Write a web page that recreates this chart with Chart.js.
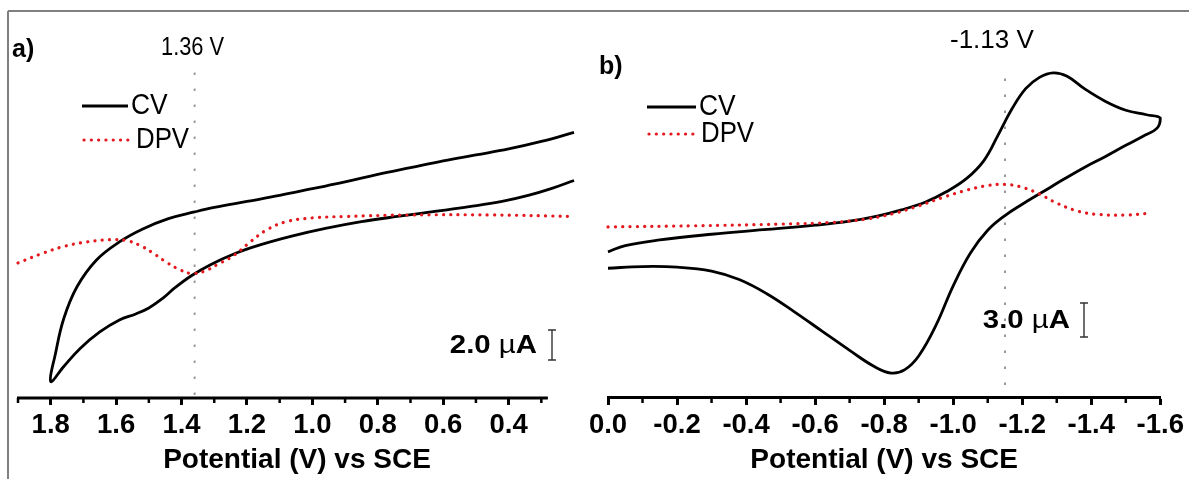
<!DOCTYPE html>
<html>
<head>
<meta charset="utf-8">
<script src="https://cdn.jsdelivr.net/npm/chart.js@4.4.1/dist/chart.umd.min.js"></script>
<style>
  html, body { margin: 0; padding: 0; background: #fff; }
  body { width: 1189px; height: 479px; position: relative; overflow: hidden; }
  canvas { position: absolute; top: 0; }
  #panelA { left: 0; }
  #panelB { left: 560px; }
</style>
</head>
<body>
<canvas id="panelA" width="595" height="479"></canvas>
<canvas id="panelB" width="629" height="479"></canvas>
<script>
// ---- panel a : oxidation (potential V vs SCE, current in uA, arbitrary zero) ----
const cvA_E = [0.20, 0.30, 0.40, 0.50, 0.60, 0.70, 0.80, 0.90, 1.00, 1.10, 1.20, 1.30, 1.36, 1.44, 1.52, 1.59, 1.66, 1.72, 1.76, 1.785, 1.80,
               1.76, 1.71, 1.65, 1.59, 1.54, 1.50, 1.46, 1.42, 1.37, 1.31, 1.24, 1.16, 1.06, 0.96, 0.85, 0.74, 0.62, 0.52, 0.42, 0.34, 0.27, 0.20];
const cvA_I = [17.7, 17.1, 16.6, 16.2, 15.8, 15.35, 14.9, 14.4, 13.95, 13.5, 13.1, 12.7, 12.4, 11.95, 11.25, 10.4, 9.2, 7.4, 5.3, 3.0, 1.1,
               2.1, 3.3, 4.4, 5.2, 5.6, 6.0, 6.6, 7.35, 8.15, 8.9, 9.6, 10.2, 10.8, 11.3, 11.75, 12.1, 12.45, 12.75, 13.1, 13.5, 13.95, 14.5];
const dpvA_E = [1.90, 1.83, 1.76, 1.69, 1.62, 1.57, 1.53, 1.49, 1.45, 1.41, 1.37, 1.33, 1.29, 1.24, 1.19, 1.14, 1.08, 1.00, 0.90, 0.70, 0.45, 0.20];
const dpvA_I = [9.0, 9.6, 10.1, 10.4, 10.55, 10.5, 10.2, 9.7, 9.1, 8.6, 8.3, 8.45, 8.9, 9.5, 10.4, 11.2, 11.75, 12.0, 12.1, 12.2, 12.2, 12.1];
const ticksA = [1.8, 1.6, 1.4, 1.2, 1.0, 0.8, 0.6, 0.4];
const minorA = [1.9, 1.7, 1.5, 1.3, 1.1, 0.9, 0.7, 0.5, 0.3];
const axisA = [1.9, 0.28];
const peakA = 1.36;

// ---- panel b : reduction ----
const cvB_E = [0.0, -0.05, -0.15, -0.30, -0.45, -0.60, -0.70, -0.78, -0.85, -0.92, -0.98, -1.04, -1.09, -1.13, -1.17,
               -1.21, -1.25, -1.29, -1.33, -1.38, -1.44, -1.50, -1.56, -1.60,
               -1.59, -1.55, -1.50, -1.44, -1.38, -1.32, -1.26, -1.20, -1.15, -1.10, -1.05, -1.00, -0.95, -0.90, -0.86,
               -0.82, -0.77, -0.70, -0.62, -0.54, -0.46, -0.38, -0.30, -0.20, -0.10, 0.0];
const cvB_I = [12.9, 13.45, 13.95, 14.45, 14.85, 15.25, 15.6, 16.05, 16.6, 17.3, 18.2, 19.4, 21.0, 23.2, 25.5,
               27.3, 28.3, 28.7, 28.4, 27.3, 26.2, 25.4, 25.0, 24.7,
               23.8, 23.1, 22.3, 21.3, 20.35, 19.3, 18.2, 17.1, 16.1, 14.8, 12.8, 9.9, 6.4, 3.7, 2.5,
               2.2, 2.8, 4.2, 5.9, 7.6, 9.2, 10.45, 11.2, 11.55, 11.6, 11.45];
const dpvB_E = [0.0, -0.25, -0.50, -0.65, -0.75, -0.83, -0.90, -0.97, -1.04, -1.10, -1.15, -1.20, -1.25, -1.30, -1.36, -1.42, -1.50, -1.57];
const dpvB_I = [15.1, 15.2, 15.35, 15.5, 15.8, 16.3, 16.95, 17.7, 18.35, 18.75, 18.85, 18.6, 18.0, 17.2, 16.5, 16.2, 16.15, 16.3];
const ticksB = [0.0, -0.2, -0.4, -0.6, -0.8, -1.0, -1.2, -1.4, -1.6];
const minorB = [-0.1, -0.3, -0.5, -0.7, -0.9, -1.1, -1.3, -1.5];
const peakB = -1.15;

const FONT = 'Arial, "Liberation Sans", Helvetica, sans-serif';
const RED = '#e3191f';

const pts = (E, I) => E.map((x, i) => ({ x, y: I[i] }));

function condText(ctx, s, x, y, size, sx, weight) {
  ctx.save();
  ctx.font = (weight || 'normal') + ' ' + size + 'px ' + FONT;
  ctx.textBaseline = 'middle';
  ctx.textAlign = 'left';
  ctx.translate(x, y);
  ctx.scale(sx, 1);
  ctx.fillStyle = '#000';
  ctx.fillText(s, 0, 0);
  ctx.restore();
}

// decorations: frame, axis line, minor ticks, labels, legend, scale bar
const deco = (cfg) => ({
  id: 'deco',
  afterDraw(chart) {
    const ctx = chart.ctx, xs = chart.scales.x, ys = chart.scales.y, area = chart.chartArea;
    ctx.save();
    ctx.strokeStyle = '#808080';
    ctx.lineWidth = 2;
    ctx.beginPath();
    cfg.frame.forEach(([x1, y1, x2, y2]) => { ctx.moveTo(x1, y1); ctx.lineTo(x2, y2); });
    ctx.stroke();

    ctx.strokeStyle = '#000';
    if (cfg.axis) {
      ctx.lineWidth = 3;
      ctx.beginPath();
      ctx.moveTo(xs.getPixelForValue(cfg.axis[0]) - 1, area.bottom);
      ctx.lineTo(xs.getPixelForValue(cfg.axis[1]), area.bottom);
      ctx.stroke();
    }
    ctx.lineWidth = 2.5;
    ctx.beginPath();
    cfg.minor.forEach(v => {
      const x = xs.getPixelForValue(v);
      ctx.moveTo(x, area.bottom);
      ctx.lineTo(x, area.bottom + 5);
    });
    ctx.stroke();

    // panel letter and peak label
    condText(ctx, cfg.letter, cfg.letterPos[0], cfg.letterPos[1], 25, 1, 'bold');
    condText(ctx, cfg.peakLabel, cfg.peakPos[0], cfg.peakPos[1], 26, cfg.peakSx, 'normal');

    // legend
    const [lx1, lx2] = cfg.legendX;
    ctx.lineWidth = 2.8;
    ctx.beginPath();
    ctx.moveTo(lx1, cfg.legendY[0]);
    ctx.lineTo(lx2, cfg.legendY[0]);
    ctx.stroke();
    ctx.strokeStyle = RED;
    ctx.lineWidth = 3.2;
    ctx.lineCap = 'round';
    ctx.setLineDash([0.1, 7.2]);
    ctx.beginPath();
    ctx.moveTo(lx1 + 2, cfg.legendY[1]);
    ctx.lineTo(lx2, cfg.legendY[1]);
    ctx.stroke();
    ctx.setLineDash([]);
    ctx.lineCap = 'butt';
    condText(ctx, 'CV', cfg.legendText[0], cfg.legendY[0], 30, 0.88);
    condText(ctx, 'DPV', cfg.legendText[1], cfg.legendY[1], 30, 0.86);

    // scale bar, length taken from the y scale
    const yb = ys.getPixelForValue(cfg.bar.from);
    const yt = ys.getPixelForValue(cfg.bar.from + cfg.bar.len);
    ctx.strokeStyle = '#333';
    ctx.lineWidth = 1.4;
    ctx.beginPath();
    ctx.moveTo(cfg.bar.x, yb); ctx.lineTo(cfg.bar.x, yt);
    ctx.moveTo(cfg.bar.x - 4, yb); ctx.lineTo(cfg.bar.x + 4, yb);
    ctx.moveTo(cfg.bar.x - 4, yt); ctx.lineTo(cfg.bar.x + 4, yt);
    ctx.stroke();

    const sx = 1.13, size = 26;
    const parts = [[cfg.bar.len.toFixed(1) + ' ', 'bold'], ['\u00b5', 'normal'], ['A', 'bold']];
    let total = 0;
    const widths = parts.map(([s, w]) => {
      ctx.font = w + ' ' + size + 'px ' + FONT;
      const m = ctx.measureText(s).width * sx;
      total += m;
      return m;
    });
    let x = cfg.bar.textRight - total;
    const ym = (yb + yt) / 2 + 1;
    parts.forEach(([s, w], i) => { condText(ctx, s, x, ym, size, sx, w); x += widths[i]; });
    ctx.restore();
  }
});

function panel(id, o) {
  return new Chart(document.getElementById(id), {
    type: 'line',
    data: {
      datasets: [
        { label: 'DPV', data: pts(o.dpvE, o.dpvI), borderColor: RED, borderWidth: 3.2,
          borderDash: [0.1, 7.2], borderCapStyle: 'round', tension: 0.4, pointRadius: 0, clip: false, order: 0 },
        { label: 'CV', data: pts(o.cvE, o.cvI), borderColor: '#000', borderWidth: 2.8,
          tension: 0.4, pointRadius: 0, clip: false, order: 1 },
        { label: 'peak', data: [{ x: o.peak, y: o.peakTop }, { x: o.peak, y: 0 }], borderColor: '#9a9a9a',
          borderWidth: 2, borderDash: [2.5, 13.5], tension: 0, pointRadius: 0, clip: false, order: 2 }
      ]
    },
    options: {
      responsive: false,
      animation: false,
      events: [],
      devicePixelRatio: 1,
      layout: { padding: o.padding },
      plugins: { legend: { display: false }, tooltip: { enabled: false } },
      scales: {
        x: {
          type: 'linear',
          min: o.xMin, max: o.xMax, reverse: true,
          afterBuildTicks: s => { s.ticks = o.ticks.map(v => ({ value: v })); },
          ticks: {
            autoSkip: false, maxRotation: 0, padding: 5, color: '#000',
            font: { family: FONT, size: 27.5, weight: 'bold', lineHeight: 1.1 },
            callback: v => Number(v).toFixed(1)
          },
          grid: { display: true, drawOnChartArea: false, drawTicks: true, tickLength: 7, tickWidth: 3, tickColor: '#000' },
          border: { display: o.border, color: '#000', width: 3 },
          title: {
            display: true, text: 'Potential (V) vs SCE', color: '#000',
            font: { family: FONT, size: 28, weight: 'bold', lineHeight: 1.1 }, padding: { top: 0, bottom: 3 }
          }
        },
        y: { display: false, min: 0, max: o.yMax }
      }
    },
    plugins: [deco(o.deco)]
  });
}

panel('panelA', {
  cvE: cvA_E, cvI: cvA_I, dpvE: dpvA_E, dpvI: dpvA_I, peak: peakA, peakTop: 21.7,
  ticks: ticksA, xMin: 0.194, xMax: 1.9, yMax: 26.53, border: false,
  padding: { left: 18, right: 19, top: 0, bottom: 0 },
  deco: {
    frame: [[8, 11, 8, 479], [8, 11, 595, 11]],
    axis: axisA,
    minor: minorA,
    letter: 'a)', letterPos: [12, 50],
    peakLabel: '1.36 V', peakPos: [161, 48], peakSx: 0.84,
    legendX: [82, 128], legendY: [106, 140], legendText: [131, 136],
    bar: { x: 552, from: 2.53, len: 2.0, textRight: 537 }
  }
});

panel('panelB', {
  cvE: cvB_E, cvI: cvB_I, dpvE: dpvB_E, dpvI: dpvB_I, peak: peakB, peakTop: 28.2,
  ticks: ticksB, xMin: -1.6, xMax: 0.0, yMax: 35.13, border: true,
  padding: { left: 48, right: 27, top: 0, bottom: 0 },
  deco: {
    frame: [[0, 11, 629, 11]],
    minor: minorB,
    letter: 'b)', letterPos: [39, 67],
    peakLabel: '-1.13 V', peakPos: [390, 41], peakSx: 1.0,
    legendX: [87, 136], legendY: [107, 134], legendText: [139, 141],
    bar: { x: 524, from: 5.38, len: 3.0, textRight: 510 }
  }
});
</script>
</body>
</html>
